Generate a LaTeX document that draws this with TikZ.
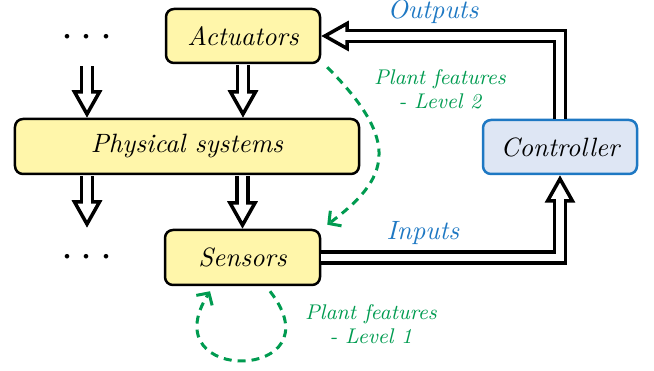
\documentclass[tikz,border=0pt]{standalone}
\usetikzlibrary{arrows.meta,calc}
\definecolor{boxyellow}{RGB}{255,246,170}
\definecolor{ctrlfill}{RGB}{222,230,244}
\definecolor{ctrlblue}{RGB}{30,120,195}
\definecolor{featgreen}{RGB}{0,155,80}
\begin{document}
\begin{tikzpicture}[x=0.4pt,y=-0.4pt,
  every node/.style={font=\fontsize{10.6pt}{13pt}\selectfont\itshape},
  box/.style={draw, line width=1pt, rounded corners=3.2pt, fill=boxyellow, inner sep=0pt},
  ctrlbox/.style={box, draw=ctrlblue, fill=ctrlfill},
  dbl/.style={double, double distance=3pt, line width=1.4pt, -{Triangle[open,length=11pt,width=12pt]},
    postaction={draw=white, line width=1.5pt, double distance=0pt, double=white, -{}, shorten >=6pt}},
  feat/.style={featgreen, line width=1.2pt, dash pattern=on 3.2pt off 2.4pt, -{Straight Barb[length=3.5pt,width=7.5pt]}},
  featlbl/.style={featgreen, align=center, font=\fontsize{8.5pt}{9.6pt}\selectfont\itshape},
  iolbl/.style={ctrlblue}
]
\useasboundingbox (0,0) rectangle (654,371);
\node[box, minimum width=61.6pt, minimum height=21.6pt] (act) at (243,36) {Actuators};
\node[box, minimum width=137.6pt, minimum height=22pt] (phys) at (187,146.5) {Physical systems};
\node[box, minimum width=62pt, minimum height=22pt] (sens) at (242.5,257.5) {Sensors};
\node[ctrlbox, minimum width=61.6pt, minimum height=21.6pt] (ctrl) at (560,147) {Controller};
\node[font=\LARGE] (dots1) at (87,38) {$\cdots$};
\node[font=\LARGE] (dots2) at (87,258) {$\cdots$};

\draw[dbl] ($(act.south)+(0,1)$) -- (act.south |- phys.north);
\draw[dbl] ($(dots1 |- act.south)+(0,2)$) -- (dots1 |- phys.north);
\draw[dbl] ($(sens.north |- phys.south)+(0,1)$) -- (sens.north);
\draw[dbl] ($(dots2 |- phys.south)+(0,1)$) -- ($(dots2 |- sens.north)+(0,-1)$);

\draw[dbl] (ctrl.north) |- (act.east);
\draw[dbl] (sens.east) -| (ctrl.south);
\node[iolbl] (outl) at (433,12) {Outputs};
\node[iolbl] (inl) at (423,233) {Inputs};

\draw[feat] ($(act.south east)+(6,3)$) .. controls ($(act.south east)+(81,78)$) and ($(sens.north east)+(68,-50)$) .. ($(sens.north east)+(6,-4)$);
\draw[feat] ($(sens.south)+(27.5,5)$) .. controls ($(sens.south)+(97.5,95)$) and ($(sens.south)+(-92.5,100)$) .. ($(sens.south)+(-32.5,5)$);
\node[featlbl] (f2) at (440,89) {Plant features\\- Level 2};
\node[featlbl] (f1) at (371,324) {Plant features\\- Level 1};
\end{tikzpicture}
\end{document}
